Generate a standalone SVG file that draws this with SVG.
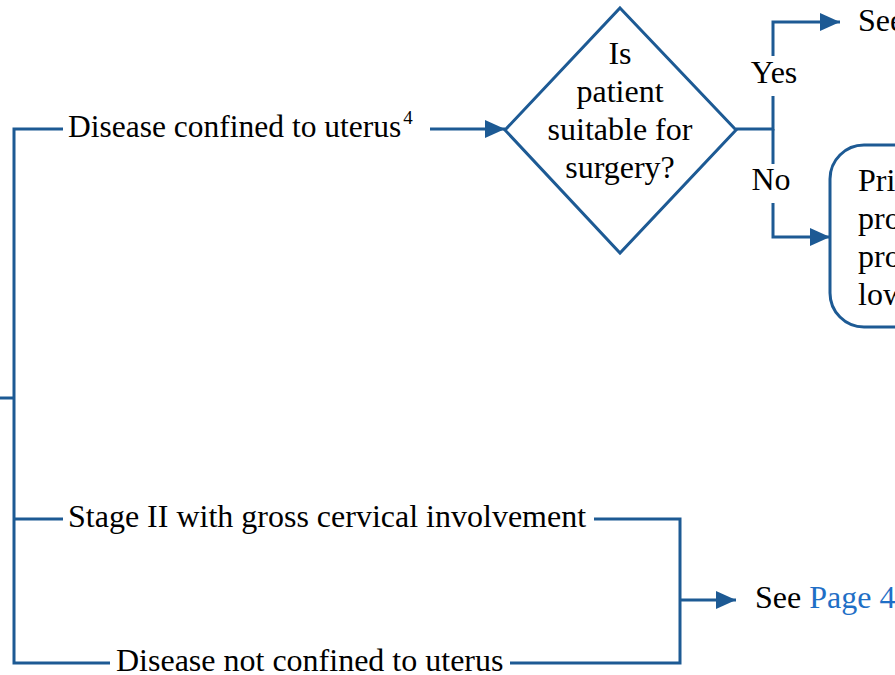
<svg xmlns="http://www.w3.org/2000/svg" width="895" height="675" viewBox="0 0 895 675">
  <defs>
    <marker id="arrow" viewBox="0 0 20 18" refX="20" refY="9" markerWidth="20" markerHeight="18" markerUnits="userSpaceOnUse" orient="auto">
      <path d="M0,0 L20,9 L0,18 Z" fill="#1d5a94"/>
    </marker>
  </defs>
  <style>
    .ln { fill: none; stroke: #1d5a94; stroke-width: 3; stroke-linejoin: miter; }
    .shape { fill: #ffffff; stroke: #1d5a94; stroke-width: 3; }
    .t { font-family: 'Liberation Serif', Tinos, 'Times New Roman', 'DejaVu Serif', serif; font-size: 32px; fill: #000000; }
    .sup { font-size: 19px; }
    .c { text-anchor: middle; }
    .link { fill: #1f6fc6; }
  </style>
  <rect width="895" height="675" fill="#ffffff"/>

  <g id="connectors">
    <!-- trunk on the left -->
    <path class="ln" d="M0,398 H14"/>
    <path class="ln" d="M63,129 H14 V663 H110"/>
    <path class="ln" d="M14,519 H63"/>
    <!-- confined to uterus to decision -->
    <path class="ln" d="M430,129 H505" marker-end="url(#arrow)"/>
    <!-- decision branches -->
    <path class="ln" d="M736,129 H773 V96"/>
    <path class="ln" d="M773,56 V22 H840" marker-end="url(#arrow)"/>
    <path class="ln" d="M773,129 V164"/>
    <path class="ln" d="M773,203 V237 H830" marker-end="url(#arrow)"/>
    <!-- stage II / not confined merge -->
    <path class="ln" d="M594,519 H680 V663 H510"/>
    <path class="ln" d="M680,600 H736" marker-end="url(#arrow)"/>
  </g>

  <g id="node-confined">
    <text class="t" x="68" y="137" style="font-size:31.5px">Disease confined to uterus<tspan class="sup" dx="2" dy="-13">4</tspan></text>
  </g>

  <g id="node-decision">
    <polygon class="shape" points="620,8 736,130 620,253 505,130"/>
    <text class="t c" x="620" y="64">Is</text>
    <text class="t c" x="620" y="102">patient</text>
    <text class="t c" x="620" y="140">suitable for</text>
    <text class="t c" x="620" y="178">surgery?</text>
  </g>

  <g id="label-yes">
    <text class="t c" x="774" y="83">Yes</text>
  </g>
  <g id="label-no">
    <text class="t c" x="771" y="190">No</text>
  </g>

  <g id="node-see-top">
    <text class="t" x="858" y="31">See</text>
  </g>

  <g id="node-primary">
    <rect class="shape" x="830" y="145" width="120" height="182" rx="34"/>
    <text class="t" x="858" y="191">Pri</text>
    <text class="t" x="858" y="229">pro</text>
    <text class="t" x="858" y="267">pro</text>
    <text class="t" x="858" y="305">low</text>
  </g>

  <g id="node-stage2">
    <text class="t" x="68" y="527">Stage II with gross cervical involvement</text>
  </g>

  <g id="node-not-confined">
    <text class="t" x="116" y="671">Disease not confined to uterus</text>
  </g>

  <g id="node-see-page4">
    <text class="t" x="755" y="608">See <tspan class="link">Page 4</tspan></text>
  </g>
</svg>
